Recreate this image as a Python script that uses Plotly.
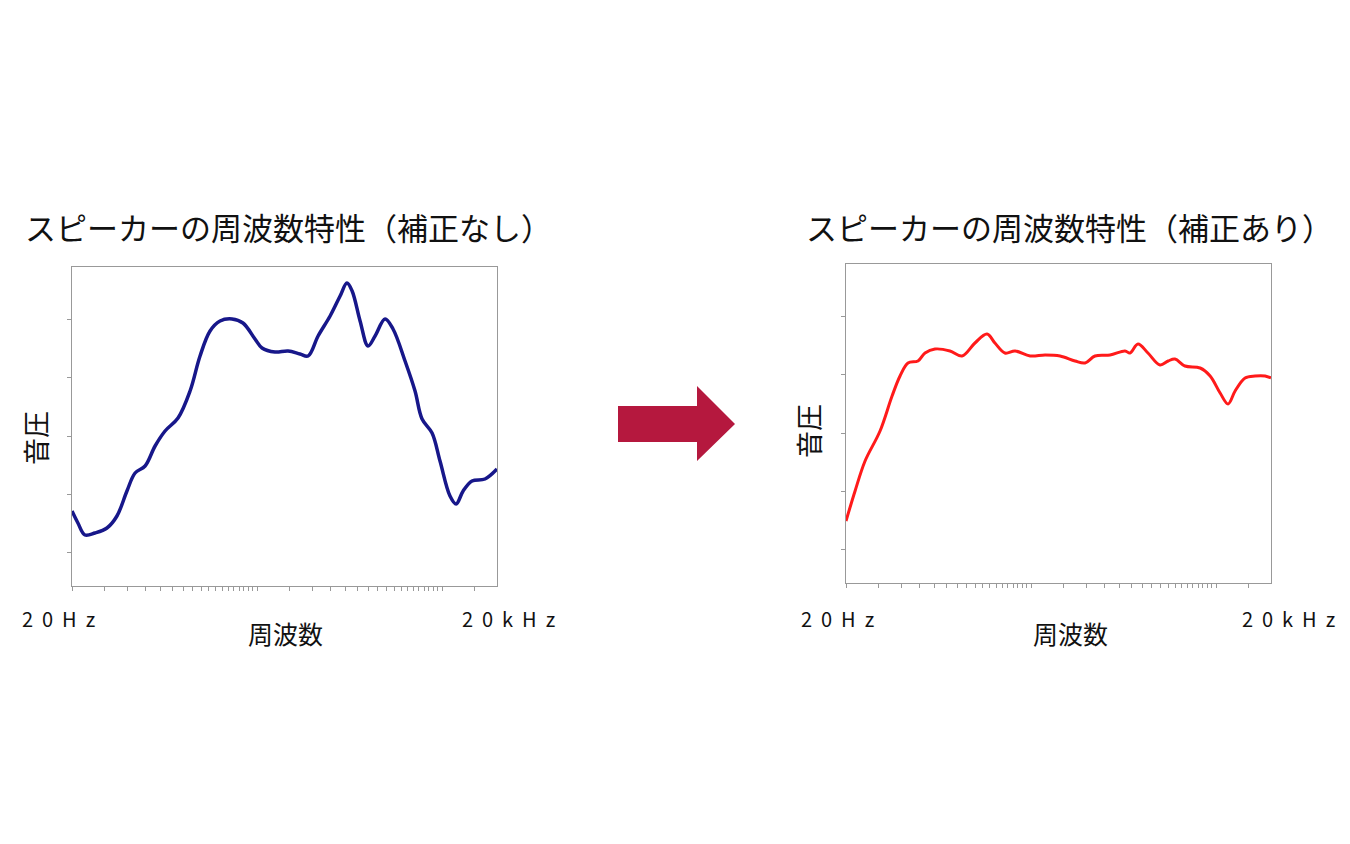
import plotly.graph_objects as go
import math

# decade position from 20Hz, and level
left_d = [0,.032,.070,.124,.189,.243,.297,.341,.395,.449,.503,.573,.638,.692,.746,.800,.865,.924,.989,1.027,1.097,1.168,1.232,1.276,1.330,1.395,1.449,1.486,1.514,1.557,1.6,1.638,1.692,1.735,1.8,1.854,1.892,1.946,1.989,2.043,2.076,2.114,2.162,2.232,2.297]
left_y_px = [510,522,534,532,527,515,490,472,465,445,430,417,390,355,330,320,318,322,338,347,351,350,353,355,335,315,295,282,290,320,345,335,318,328,360,390,418,432,460,495,503,490,480,478,468]
right_d = [0,.049,.103,.184,.249,.292,.335,.389,.427,.481,.562,.627,.697,.762,.805,.859,.914,.995,1.076,1.157,1.238,1.292,1.346,1.427,1.508,1.535,1.578,1.632,1.697,1.741,1.778,1.832,1.914,1.968,2.022,2.065,2.103,2.157,2.211,2.265,2.297]
right_y_px = [520,490,460,430,395,375,362,360,352,348,350,355,342,333,342,352,350,355,354,355,360,362,355,354,350,352,343,352,364,360,358,365,367,375,392,403,390,377,375,375,377]
left_y = [585 - v for v in left_y_px]
right_y = [582 - v for v in right_y_px]

title_l = "スピーカーの周波数特性（補正なし）"
title_r = "スピーカーの周波数特性（補正あり）"

xt = [n + math.log10(k) - math.log10(2) for n in range(0, 3) for k in range(2, 21)]
xt = sorted(set(round(v, 4) for v in xt if 0 <= v <= 2.297))
yt = [34, 92, 150, 209, 267]

DX, DY = 8, 7
W, H = 1350, 844
def px(x): return (x - DX) / W
def py(y): return 1 - (y - DY) / H

fig = go.Figure()
fig.add_trace(go.Scatter(x=left_d, y=left_y, mode="lines", line=dict(color="#17178a", width=3.5, shape="spline"), xaxis="x", yaxis="y"))
fig.add_trace(go.Scatter(x=right_d, y=right_y, mode="lines", line=dict(color="#ff1a1a", width=3, shape="spline"), xaxis="x2", yaxis="y2"))

ax = dict(showgrid=False, zeroline=False, showline=True, linecolor="#999", mirror=True, ticks="outside",
          ticklen=4, tickcolor="#999", showticklabels=False)
fig.update_layout(
    width=W, height=H, margin=dict(l=0, r=0, t=0, b=0), showlegend=False,
    paper_bgcolor="white", plot_bgcolor="white",
    font=dict(family="Noto Sans CJK JP", color="#111"),
    xaxis=dict(ax, domain=[px(72), px(497)], range=[0, 2.297], tickvals=xt, anchor="y"),
    yaxis=dict(ax, domain=[py(585), py(266)], range=[0, 319], tickvals=yt, anchor="x"),
    xaxis2=dict(ax, domain=[px(846), px(1271)], range=[0, 2.297], tickvals=xt, anchor="y2"),
    yaxis2=dict(ax, domain=[py(582), py(263)], range=[0, 319], tickvals=yt, anchor="x2"),
)
def txt(x, y, s, size, angle=0):
    fig.add_annotation(x=px(x), y=py(y), xref="paper", yref="paper", text=s, showarrow=False,
                       font=dict(size=size), textangle=angle, xanchor="center", yanchor="middle")
txt(288, 225, title_l, 31); txt(1069, 225, title_r, 31)
txt(35, 437, "音圧", 27, -90); txt(808, 430, "音圧", 27, -90)
txt(285, 632, "周波数", 25); txt(1070, 632, "周波数", 25)
txt(58, 617, "2  0  H  z", 20); txt(508, 617, "2  0  k  H  z", 20)
txt(837, 617, "2  0  H  z", 20); txt(1288, 617, "2  0  k  H  z", 20)
fig.add_shape(type="path", xref="paper", yref="paper", fillcolor="#b5183e", line=dict(width=0),
              path=f"M {px(618)} {py(405)} L {px(697)} {py(405)} L {px(697)} {py(385)} L {px(735)} {py(423)} L {px(697)} {py(460)} L {px(697)} {py(441)} L {px(618)} {py(441)} Z")
fig.write_html("out.html")
